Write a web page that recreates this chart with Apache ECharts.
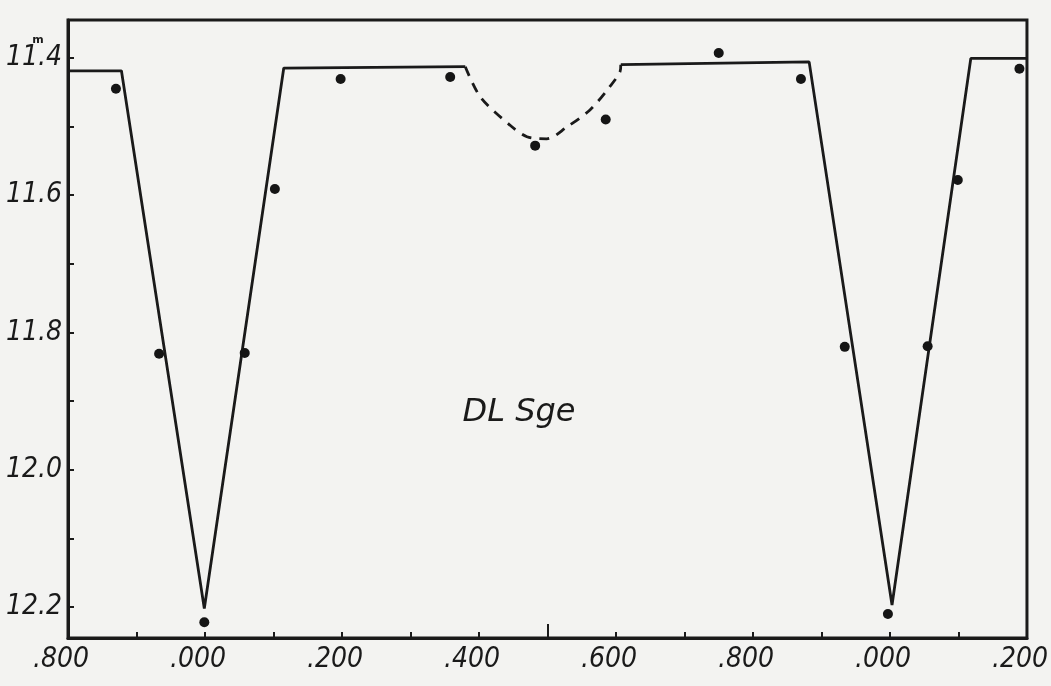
<!DOCTYPE html>
<html>
<head>
<meta charset="utf-8">
<style>
  html, body { margin: 0; padding: 0; background: #f3f3f1; }
  #chart { width: 1051px; height: 686px; }
</style>
<script src="https://cdn.jsdelivr.net/npm/echarts@6/dist/echarts.min.js"></script>
</head>
<body>
<div id="chart"></div>
<script>
// ---- Data (phase, magnitude) ----
const observations = [
  [-0.130, 11.445], [-0.067, 11.831], [-0.001, 12.222], [0.058, 11.830],
  [0.102, 11.591], [0.198, 11.431], [0.358, 11.428], [0.482, 11.528],
  [0.585, 11.490], [0.750, 11.393], [0.870, 11.431], [0.934, 11.821],
  [0.997, 12.210], [1.055, 11.820], [1.099, 11.578], [1.189, 11.416]
];
const lightCurveA = [
  [-0.2, 11.419], [-0.122, 11.419], [-0.001, 12.202], [0.115, 11.415], [0.380, 11.413]
];
const secondaryDip = [
  [0.380, 11.413], [0.402, 11.457], [0.445, 11.498], [0.470, 11.515], [0.499, 11.518],
  [0.528, 11.501], [0.562, 11.476], [0.591, 11.442], [0.606, 11.420], [0.607, 11.410]
];
const lightCurveB = [
  [0.607, 11.410], [0.882, 11.406], [1.003, 12.197], [1.118, 11.401], [1.2, 11.401]
];
const xTickValues = [-0.1, 0, 0.1, 0.2, 0.3, 0.4, 0.6, 0.7, 0.8, 0.9, 1.0, 1.1];
const xLongTickValues = [0.5];
const xLabelValues = [-0.2, 0, 0.2, 0.4, 0.6, 0.8, 1.0, 1.2];
const xLabelTexts = ['.800', '.000', '.200', '.400', '.600', '.800', '.000', '.200'];
const yTickValues = [11.4, 11.5, 11.6, 11.7, 11.8, 11.9, 12.0, 12.1, 12.2];
const yLabelValues = [11.4, 11.6, 11.8, 12.0, 12.2];
const starName = 'DL Sge';

// ---- Chart ----
const ink = '#1a1a1a';
const labelFont = "'Liberation Sans Narrow', 'DejaVu Sans Condensed', 'DejaVu Sans', sans-serif";
const chart = echarts.init(document.getElementById('chart'), null, { renderer: 'canvas' });

const xLabelFormatter = function (v) {
  for (let i = 0; i < xLabelValues.length; i++) {
    if (Math.abs(xLabelValues[i] - v) < 1e-6) return xLabelTexts[i];
  }
  return '';
};

chart.setOption({
  backgroundColor: '#f3f3f1',
  animation: false,
  grid: {
    left: 68, right: 18, top: 20, bottom: 48,
    show: true, borderColor: ink, borderWidth: 3, backgroundColor: 'transparent'
  },
  xAxis: [{
    type: 'value', min: -0.2, max: 1.2,
    axisLine: { show: true, onZero: false, lineStyle: { color: ink, width: 3 } },
    axisTick: { show: true, inside: true, length: 6, customValues: xTickValues,
      lineStyle: { color: ink, width: 2 } },
    axisLabel: { show: true, customValues: xLabelValues, formatter: xLabelFormatter,
      color: ink, fontSize: 28, fontStyle: 'italic', fontFamily: labelFont, margin: 8,
      padding: [0, 14, 0, 0] },
    splitLine: { show: false }
  }, {
    type: 'value', min: -0.2, max: 1.2, position: 'bottom',
    axisLine: { show: false, onZero: false },
    axisTick: { show: true, inside: true, length: 14, customValues: xLongTickValues,
      lineStyle: { color: ink, width: 2 } },
    axisLabel: { show: false },
    splitLine: { show: false }
  }],
  yAxis: {
    type: 'value', inverse: true, min: 11.345, max: 12.245,
    axisLine: { show: true, onZero: false, lineStyle: { color: ink, width: 3 } },
    axisTick: { show: true, inside: true, length: 6, customValues: yTickValues,
      lineStyle: { color: ink, width: 2 } },
    axisLabel: { show: true, customValues: yLabelValues,
      formatter: function (v) { return v.toFixed(1); },
      color: ink, fontSize: 28, fontStyle: 'italic', fontFamily: labelFont, margin: 6 },
    splitLine: { show: false }
  },
  graphic: [{
    type: 'text', x: 519, y: 413, silent: true,
    style: { text: starName, fill: ink, font: "italic 32px 'DejaVu Sans', sans-serif",
      textAlign: 'center', textVerticalAlign: 'middle' }
  }, {
    type: 'text', x: 38, y: 40, silent: true,
    style: { text: 'm', fill: ink, font: "bold 11px 'DejaVu Sans', sans-serif",
      textAlign: 'center', textVerticalAlign: 'middle' }
  }],
  series: [{
    type: 'line', data: lightCurveA, showSymbol: false, symbol: 'none',
    lineStyle: { color: ink, width: 2.8 }, z: 2
  }, {
    type: 'line', data: secondaryDip, showSymbol: false, symbol: 'none', smooth: 0.3,
    lineStyle: { color: ink, width: 2.8, type: [10, 8] }, z: 2
  }, {
    type: 'line', data: lightCurveB, showSymbol: false, symbol: 'none',
    lineStyle: { color: ink, width: 2.8 }, z: 2
  }, {
    type: 'scatter', data: observations, symbol: 'circle', symbolSize: 10,
    itemStyle: { color: '#151515', opacity: 1 }, z: 3
  }]
});
</script>
</body>
</html>
